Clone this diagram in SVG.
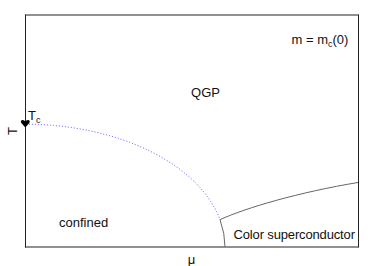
<svg xmlns="http://www.w3.org/2000/svg" width="380" height="266" viewBox="0 0 380 266">
<style>
text{font-family:"Liberation Sans",Arial,sans-serif;font-size:13px;fill:#111}
.sub{font-size:9px}
.frame{stroke:#222;stroke-width:1;fill:none}
.line{stroke:#666;stroke-width:1;fill:none}
</style>
<rect width="380" height="266" fill="#fff"/>
<g id="frame">
<line class="frame" x1="25" y1="15" x2="358.5" y2="15"/>
<line class="frame" x1="25" y1="247" x2="358.5" y2="247"/>
<line class="frame" x1="25.5" y1="14.5" x2="25.5" y2="247.5"/>
<line class="frame" x1="358.5" y1="14.5" x2="358.5" y2="247.5"/>
</g>
<g id="curves">
<path d="M29 124.2 A200 123 0 0 1 220 219.7" fill="none" stroke="#4444ff" stroke-width="0.9" stroke-dasharray="1 2"/>
<path class="line" d="M220 219.7 A200 123 0 0 1 225 247"/>
<path class="line" d="M220 219.7 C245 208 300 192 358 182.5"/>
</g>
<g id="tc-marker">
<path d="M25.3 127.5 L21.3 123 C20.3 121.8 21 120 22.6 120 C23.8 120 24.8 120.8 25.3 121.8 C25.8 120.8 26.8 120 28 120 C29.6 120 30.3 121.8 29.3 123 Z" fill="#000"/>
<text x="28" y="119.5">T<tspan class="sub" dy="3.5">c</tspan></text>
</g>
<g id="labels">
<text x="205.5" y="97" text-anchor="middle">QGP</text>
<text x="291.5" y="44">m = m<tspan class="sub" dy="3">c</tspan><tspan dy="-3">(0)</tspan></text>
<text x="59" y="227">confined</text>
<text x="233.5" y="238.5" textLength="121.5">Color superconductor</text>
<text x="191.5" y="264" text-anchor="middle">μ</text>
<text transform="translate(16.5 131) rotate(-90)" text-anchor="middle">T</text>
</g>
</svg>
